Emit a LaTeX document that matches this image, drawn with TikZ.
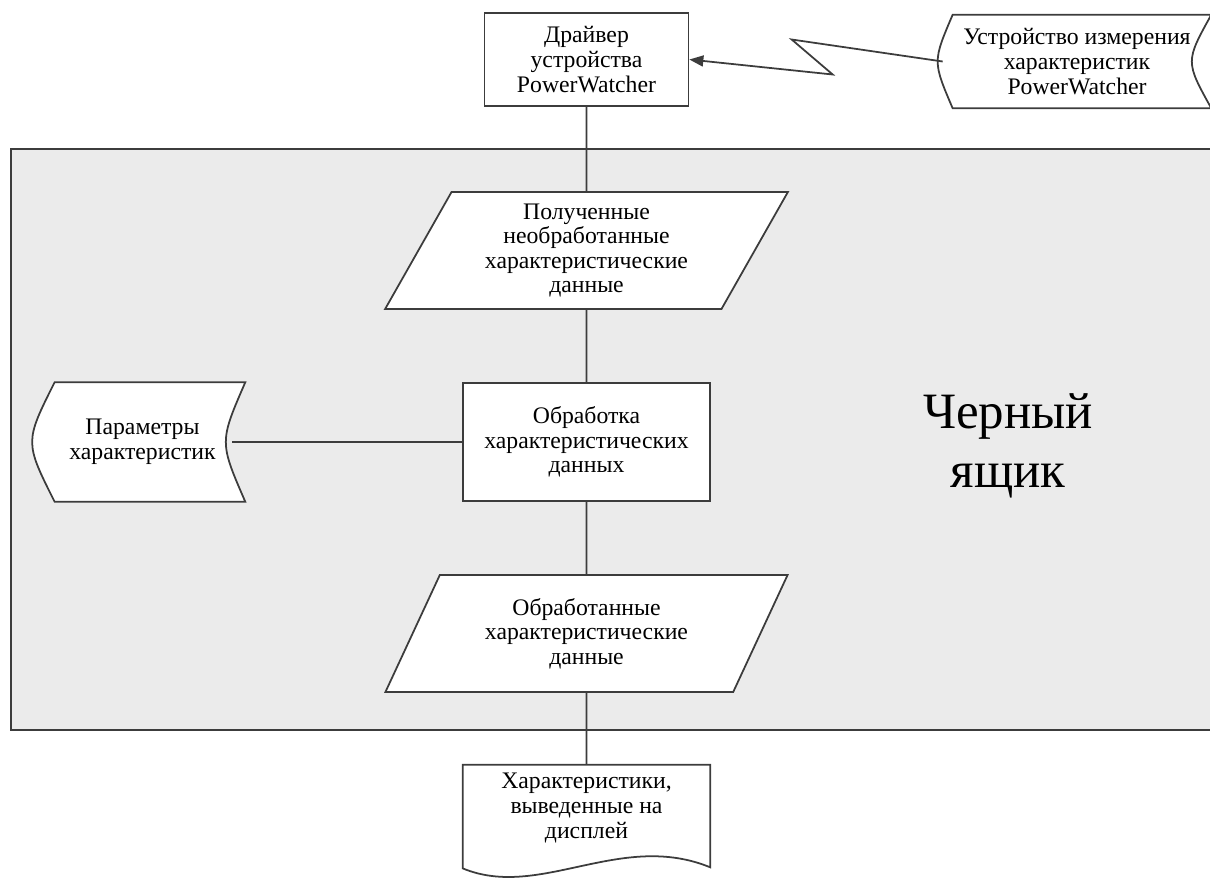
\documentclass[tikz,border=0pt]{standalone}
\usepackage{fontspec}
\setmainfont{Liberation Serif}
\usepackage{tikz}
\usetikzlibrary{positioning,arrows.meta,shapes.geometric,backgrounds}
\definecolor{EdgeGray}{RGB}{60,60,60}
\definecolor{BoxGray}{RGB}{235,235,235}

\begin{document}
\begin{tikzpicture}[x=0.02cm, y=-0.02cm,
  box/.style={draw=EdgeGray, line width=1pt, fill=white, align=center, minimum width=4.94cm, minimum height=2.36cm, inner sep=2pt},
  data/.style={trapezium, trapezium left angle=62, trapezium right angle=118, trapezium stretches=true, draw=EdgeGray, line width=1pt, fill=white, align=center, minimum width=8.06cm, minimum height=2.34cm, inner sep=0pt},
  store/.style={align=center, inner sep=0pt},
  line/.style={draw=EdgeGray, line width=1pt},
  font=\fontsize{13.5}{14}\selectfont
]
\useasboundingbox (0,0) rectangle (1210,877);

\node[box, minimum width=4.08cm, minimum height=1.86cm] (drv) at (586.5,59.5) {Драйвер\\устройства\\PowerWatcher};
\node[data] (raw) at (586.5,250.5) {Полученные\\необработанные\\характеристические\\данные};
\node[box] (proc) at (586.5,442) {Обработка\\характеристических\\данных};
\node[data] (done) at (586.5,633.5) {Обработанные\\характеристические\\данные};
\node[store, minimum width=4.1cm, minimum height=2.38cm] (param) at (142.5,442) {Параметры\\характеристик};
\node[store, minimum width=5.36cm, minimum height=1.86cm] (dev) at (1077,61.5) {Устройство измерения\\характеристик\\PowerWatcher};
\node[store, minimum width=4.94cm, minimum height=1.72cm] (disp) at (586.5,808) {Характеристики,\\выведенные на\\дисплей};
\node[font=\fontsize{29}{33.5}\selectfont, align=center] (bb) at (1008,446) {Черный\\ящик};

% black box area and the outlines of the odd shapes
\begin{scope}[on background layer]
  \fill[BoxGray] (11,149) rectangle (1230,730);
  \draw[line, line width=1.4pt] (1230,149) -- (11,149) -- (11,730) -- (1230,730);
  \draw[line, fill=white] ([xshift=0.3cm]param.north west) -- (param.north east)
    .. controls ([xshift=-0.52cm]param.east) .. (param.south east)
    -- ([xshift=0.3cm]param.south west)
    .. controls ([xshift=-0.3cm]param.west) .. cycle;
  \draw[line, fill=white] ([xshift=0.2cm]dev.north west) -- (dev.north east)
    .. controls ([xshift=-0.52cm]dev.east) .. (dev.south east)
    -- ([xshift=0.2cm]dev.south west)
    .. controls ([xshift=-0.2cm]dev.west) .. cycle;
  \draw[line, fill=white] (disp.north west) -- (disp.north east)
    -- ([yshift=-0.32cm]disp.south east)
    .. controls ([xshift=-1.8cm,yshift=0.42cm]disp.south east) and ([xshift=1.54cm,yshift=-0.98cm]disp.south west)
    .. ([yshift=-0.34cm]disp.south west) -- cycle;
\end{scope}

\draw[line] (drv.south) -- (raw.north);
\draw[line] (raw.south) -- (proc.north);
\draw[line] (proc.south) -- (done.north);
\draw[line] (done.south) -- (disp.north);
\draw[line] ([xshift=-0.26cm]param.east) -- (proc.west);
\draw[line, -{Triangle[length=0.28cm,width=0.22cm]}] (dev.west) -- ++(-151,-22) -- ++(41,35) -- (drv.east);
\end{tikzpicture}
\end{document}
